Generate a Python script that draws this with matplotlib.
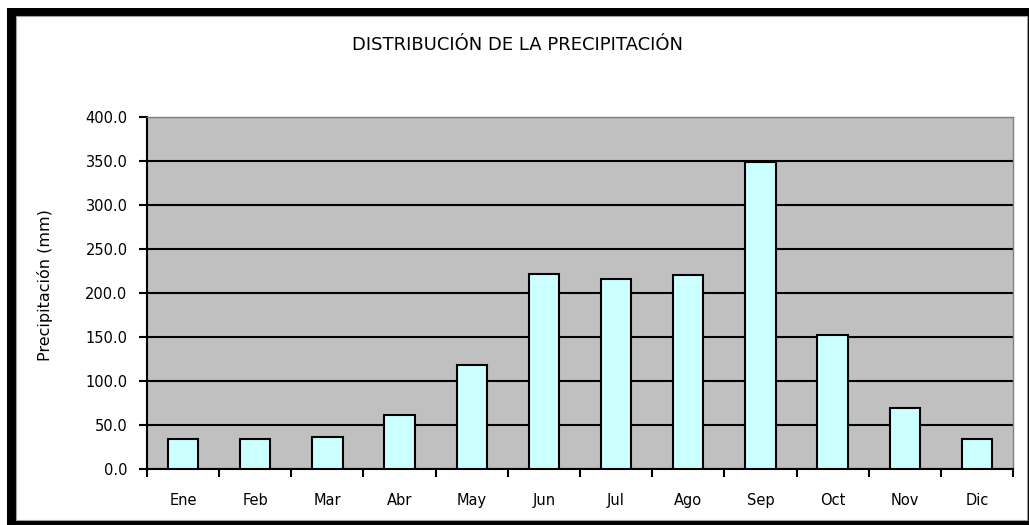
import numpy as np
import matplotlib
matplotlib.use("Agg")
import matplotlib.pyplot as plt
from matplotlib.patches import Rectangle

# monthly precipitation (mm)
meses = ['Ene', 'Feb', 'Mar', 'Abr', 'May', 'Jun', 'Jul', 'Ago', 'Sep', 'Oct', 'Nov', 'Dic']
precip = [33.7, 33.7, 36.0, 61.4, 118.0, 222.0, 215.5, 220.5, 349.0, 152.0, 69.7, 33.7]
yticks = [0, 50, 100, 150, 200, 250, 300, 350, 400]

plt.rcParams['font.family'] = ['DejaVu Sans']

W, H = 1029, 525
fig = plt.figure(figsize=(W / 100, H / 100), dpi=100, facecolor='white')

# black frame round the chart
fig.patches.append(Rectangle((7 / W, 0), 1 - 7 / W, 1 - 8 / H, transform=fig.transFigure,
                             facecolor='black', edgecolor='none', zorder=-2))
fig.patches.append(Rectangle((16 / W, 5 / H), 1 - 16 / W - 2 / W, 1 - 16 / H - 5 / H,
                             transform=fig.transFigure, facecolor='white',
                             edgecolor='#a0a0a0', linewidth=0.8, zorder=-1))

ax = fig.add_axes([147 / W, 1 - 469 / H, (1013 - 147) / W, (469 - 117) / H])
ax.set_facecolor('#c0c0c0')

x = np.arange(len(meses))
ax.bar(x, precip, width=0.42, color='#ccffff', edgecolor='black', linewidth=1.5, zorder=3)

ax.set_xlim(-0.5, len(meses) - 0.5)
ax.set_ylim(0, 400)
ax.set_yticks(yticks)
ax.set_yticklabels([f'{v:.1f}' for v in yticks], fontsize=10.5)
ax.yaxis.grid(True, color='black', linewidth=1.5, zorder=1)
ax.set_axisbelow(True)

ax.set_xticks(x)
ax.set_xticklabels(meses, fontsize=10.5)
ax.set_xticks(np.arange(len(meses) + 1) - 0.5, minor=True)
ax.tick_params(axis='x', which='major', length=0, pad=17)
ax.tick_params(axis='x', which='minor', length=6, width=1.5, direction='out')
ax.tick_params(axis='y', length=6, width=1.5, direction='out', pad=8)

for s in ['left', 'bottom']:
    ax.spines[s].set_color('black')
    ax.spines[s].set_linewidth(1.5)
for s in ['top', 'right']:
    ax.spines[s].set_color('#808080')
    ax.spines[s].set_linewidth(1.0)

fig.text(518 / W, 1 - 45 / H, 'DISTRIBUCIÓN DE LA PRECIPITACIÓN', ha='center', va='center', fontsize=13)
fig.text(45 / W, 1 - 285 / H, 'Precipitación (mm)', ha='center', va='center', rotation=90, fontsize=11.5)

fig.savefig('out.png', dpi=100, facecolor='white')
